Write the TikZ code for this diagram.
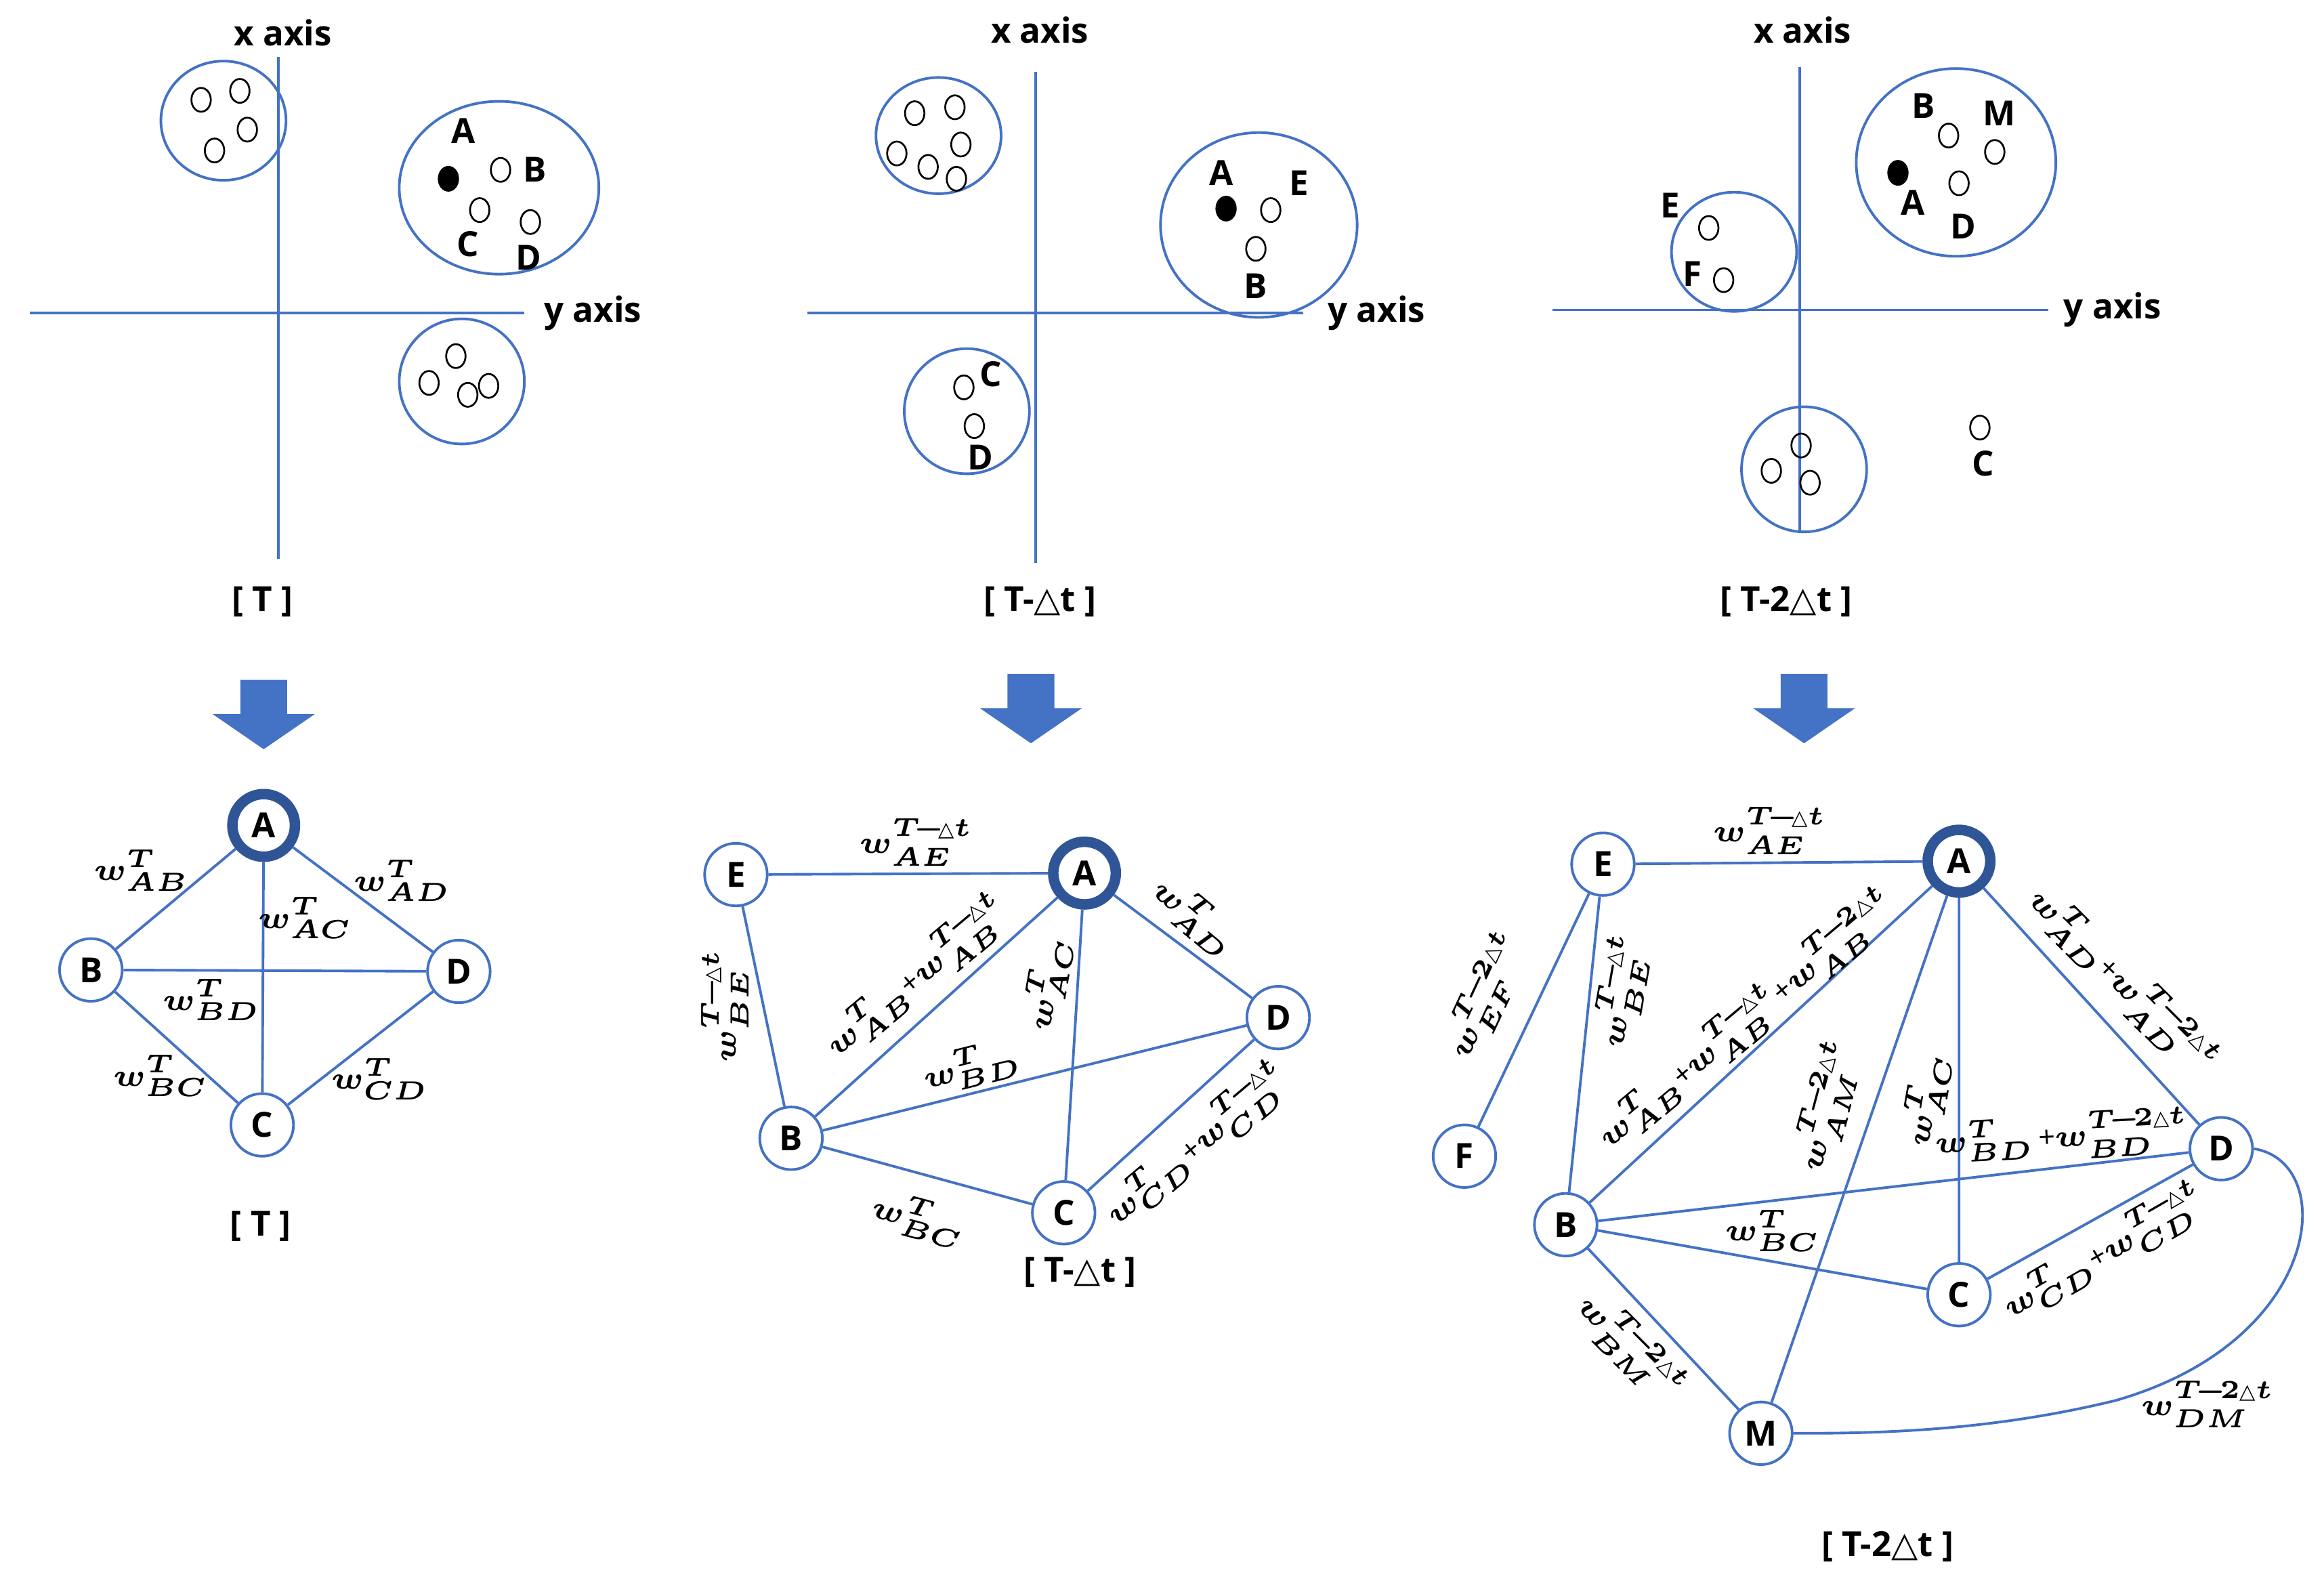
\documentclass[tikz,border=0pt]{standalone}
\usepackage{amsmath,bm}
\usepackage{fontspec}
\setmainfont{Open Sans}
\newfontfamily\dejavu{DejaVu Sans}
\newcommand\dtri{\text{\dejavu △}}
\newcommand\wt[2]{$\bm{w}^{#2}_{\bm{#1}}$}
\newcommand\Tt{\bm{T}}
\newcommand\Tdt{\bm{T\!-\!}\dtri\bm{t}}
\newcommand\Tddt{\bm{T\!-\!2}\dtri\bm{t}}
\definecolor{ln}{HTML}{4472C4}
\definecolor{ring}{HTML}{2F5597}
\usetikzlibrary{shapes.geometric}
\begin{document}
\begin{tikzpicture}[x=0.01cm,y=-0.01cm,
  every node/.style={font=\fontsize{6.6}{8}\selectfont\bfseries},
  ax/.style={ln,line width=0.5pt},
  cl/.style={ln,line width=0.5pt},
  dot/.style={draw=black,line width=0.35pt,ellipse,minimum width=0.13cm,minimum height=0.16cm,inner sep=0pt},
  fdot/.style={dot,fill=black},
  gn/.style={circle,draw=ln,line width=0.5pt,fill=white,minimum size=0.42cm,inner sep=0pt},
  gA/.style={circle,draw=ring,line width=2pt,fill=white,minimum size=0.42cm,inner sep=0pt},
  e/.style={ln,line width=0.5pt},
  wl/.style={font=\fontsize{5.6}{7}\selectfont,inner sep=0.3pt},
  barrow/.style={fill=ln,draw=ln}]
\useasboundingbox (0,0) rectangle (1560,1057);
% ---------- Panel 1 ----------
\draw[ax] (187,38) -- (187,375);
\draw[ax] (20,210) -- (352,210);
\node (x1) at (190,22) {x axis};
\node (y1) at (398,210) {y axis};
\draw[cl] (150,81) ellipse (42 and 40);
\draw[cl] (335,126) ellipse (67 and 58);
\draw[cl] (310,256) ellipse (42 and 42);
\foreach \p in {(135,67),(161,61),(166,87),(144,101),(336,114),(322,141),(356,149),(306,239),(288,257),(314,265),(328,259)} \node[dot] at \p {};
\node[fdot] at (301,120) {};
\node at (311,88) {A}; \node at (359,114) {B}; \node at (314,164) {C}; \node at (355,173) {D};
\node (t1) at (176,404) {[ T ]};
\fill[barrow] (162,457) -- (192,457) -- (192,480) -- (209,480) -- (177,502) -- (145,480) -- (162,480) -- cycle;
% graph 1
\node[gA] (A1) at (177,554) {A};
\node[gn] (B1) at (61,651) {B};
\node[gn] (D1) at (308,652) {D};
\node[gn] (C1) at (176,755) {C};
\draw[e] (A1)--(B1) (A1)--(D1) (A1)--(C1) (B1)--(D1) (B1)--(C1) (D1)--(C1);
\node[wl] at (95,584) {\wt{AB}{\Tt}};
\node[wl] at (270,591) {\wt{AD}{\Tt}};
\node[wl] at (205,616) {\wt{AC}{\Tt}};
\node[wl] at (142,671) {\wt{BD}{\Tt}};
\node[wl] at (108,722) {\wt{BC}{\Tt}};
\node[wl] at (255,724) {\wt{CD}{\Tt}};
\node at (175,823) {[ T ]};
% ---------- Panel 2 ----------
\draw[ax] (695,48) -- (695,378);
\draw[ax] (542,210) -- (875,210);
\node at (698,20) {x axis};
\node at (924,210) {y axis};
\draw[cl] (630,91) ellipse (42 and 39);
\draw[cl] (845,151) ellipse (66 and 62);
\draw[cl] (649,276) ellipse (42 and 42);
\foreach \p in {(614,76),(641,72),(645,97),(602,103),(623,112),(642,120),(853,141),(843,167),(647,260),(654,286)} \node[dot] at \p {};
\node[fdot] at (823,140) {};
\node at (820,116) {A}; \node at (872,123) {E}; \node at (843,192) {B};
\node at (665,251) {C}; \node at (658,307) {D};
\node at (698,404) {[ T-\dtri t ]};
\fill[barrow] (677,453) -- (707,453) -- (707,476) -- (724,476) -- (692,498) -- (660,476) -- (677,476) -- cycle;
% graph 2
\node[gn] (E2) at (494,587) {E};
\node[gA] (A2) at (728,586) {A};
\node[gn] (D2) at (858,683) {D};
\node[gn] (B2) at (531,764) {B};
\node[gn] (C2) at (714,814) {C};
\draw[e] (E2)--(A2) (E2)--(B2) (A2)--(B2) (A2)--(C2) (A2)--(D2) (B2)--(D2) (B2)--(C2) (C2)--(D2);
\node[wl] at (615,565) {\wt{AE}{\Tdt}};
\node[wl,rotate=90] at (486,675) {\wt{BE}{\Tdt}};
\node[wl,rotate=40] at (615,655) {\wt{AB}{\Tt}+\wt{AB}{\Tdt}};
\node[wl,rotate=80] at (703,660) {\wt{AC}{\Tt}};
\node[wl,rotate=-40] at (802,615) {\wt{AD}{\Tt}};
\node[wl,rotate=14] at (652,716) {\wt{BD}{\Tt}};
\node[wl,rotate=-15] at (617,818) {\wt{BC}{\Tt}};
\node[wl,rotate=40] at (803,768) {\wt{CD}{\Tt}+\wt{CD}{\Tdt}};
\node at (725,854) {[ T-\dtri t ]};
% ---------- Panel 3 ----------
\draw[ax] (1208,45) -- (1208,358);
\draw[ax] (1042,208) -- (1375,208);
\node at (1210,20) {x axis};
\node at (1418,208) {y axis};
\draw[cl] (1313,109) ellipse (67 and 63);
\draw[cl] (1164,169) ellipse (42 and 40);
\draw[cl] (1211,315) ellipse (42 and 42);
\foreach \p in {(1308,91),(1339,102),(1315,123),(1147,153),(1157,188),(1209,299),(1189,316),(1215,324),(1329,287)} \node[dot] at \p {};
\node[fdot] at (1274,116) {};
\node at (1291,71) {B}; \node at (1342,76) {M}; \node at (1284,136) {A}; \node at (1318,152) {D};
\node at (1121,138) {E}; \node at (1136,184) {F}; \node at (1331,311) {C};
\node at (1199,404) {[ T-2\dtri t ]};
\fill[barrow] (1196,453) -- (1226,453) -- (1226,476) -- (1243,476) -- (1211,498) -- (1179,476) -- (1196,476) -- cycle;
% graph 3
\node[gn] (E3) at (1076,580) {E};
\node[gA] (A3) at (1315,578) {A};
\node[gn] (F3) at (983,776) {F};
\node[gn] (D3) at (1491,771) {D};
\node[gn] (B3) at (1051,822) {B};
\node[gn] (C3) at (1315,869) {C};
\node[gn] (M3) at (1182,962) {M};
\draw[e] (E3)--(A3) (E3)--(F3) (E3)--(B3) (A3)--(B3) (A3)--(M3) (A3)--(C3) (A3)--(D3) (B3)--(D3) (B3)--(C3) (B3)--(M3) (C3)--(D3);
\draw[e] (D3.east) .. controls (1570,780) and (1560,900) .. (1420,940) .. controls (1330,962) and (1250,962) .. (M3.east);
\node[wl] at (1188,557) {\wt{AE}{\Tdt}};
\node[wl,rotate=65] at (997,668) {\wt{EF}{\Tddt}};
\node[wl,rotate=80] at (1088,665) {\wt{BE}{\Tdt}};
\node[wl,rotate=40] at (1172,684) {\wt{AB}{\Tt}+\wt{AB}{\Tdt}+\wt{AB}{\Tddt}};
\node[wl,rotate=75] at (1226,742) {\wt{AM}{\Tddt}};
\node[wl,rotate=80] at (1293,738) {\wt{AC}{\Tt}};
\node[wl,rotate=-45] at (1425,658) {\wt{AD}{\Tt}+\wt{AD}{\Tddt}};
\node[wl,rotate=3] at (1384,762) {\wt{BD}{\Tt}\,+\wt{BD}{\Tddt}};
\node[wl] at (1190,826) {\wt{BC}{\Tt}};
\node[wl,rotate=30] at (1412,840) {\wt{CD}{\Tt}+\wt{CD}{\Tdt}};
\node[wl,rotate=-45] at (1095,904) {\wt{BM}{\Tddt}};
\node[wl] at (1482,942) {\wt{DM}{\Tddt}};
\node at (1267,1038) {[ T-2\dtri t ]};
\end{tikzpicture}
\end{document}
